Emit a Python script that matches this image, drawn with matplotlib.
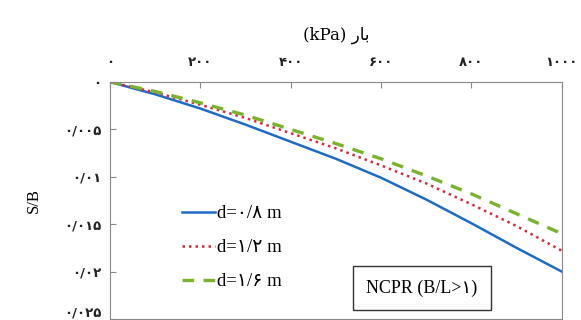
import numpy as np
import matplotlib.pyplot as plt

# load (kPa) and settlement ratio S/B
load = [0, 100, 200, 300, 400, 500, 600, 700, 800, 900, 1000]
sb_08 = [0, 0.0013, 0.0028, 0.0045, 0.0063, 0.0081, 0.0101, 0.0124, 0.0149, 0.0175, 0.0200]
sb_12 = [0, 0.0011, 0.0024, 0.0038, 0.0054, 0.0070, 0.0088, 0.0107, 0.0129, 0.0152, 0.0178]
sb_16 = [0, 0.0010, 0.0022, 0.0035, 0.0050, 0.0065, 0.0081, 0.0099, 0.0118, 0.0139, 0.0160]

labels = ['d=\u06f0/\u06f8 m', 'd=\u06f1/\u06f2 m', 'd=\u06f1/\u06f6 m']
x_ticks = [0, 200, 400, 600, 800, 1000]
x_ticklabels = ['\u06f0', '\u06f2\u06f0\u06f0', '\u06f4\u06f0\u06f0', '\u06f6\u06f0\u06f0', '\u06f8\u06f0\u06f0', '\u06f1\u06f0\u06f0\u06f0']
y_ticks = [0, 0.005, 0.01, 0.015, 0.02, 0.025]
y_ticklabels = ['\u06f0', '\u06f0/\u06f0\u06f0\u06f5', '\u06f0/\u06f0\u06f1', '\u06f0/\u06f0\u06f1\u06f5', '\u06f0/\u06f0\u06f2', '\u06f0/\u06f0\u06f2\u06f5']
# "بار" in presentation forms, visual order
x_title = '(kPa) \ufead\ufe8e\ufe91'

fam = ['Liberation Serif', 'DejaVu Sans']
plt.rcParams['font.family'] = fam

fig = plt.figure(figsize=(5.81, 3.2), dpi=100)
ax = fig.add_axes([0.189, 0.003, 0.778, 0.741])

ax.plot(load, sb_08, color='#1f6cc4', lw=1.8, label=labels[0])
ax.plot(load, sb_12, color='#d42a3c', lw=1.8, ls=(0, (1, 1.6)), label=labels[1])
ax.plot(load, sb_16, color='#78b52c', lw=2.4, ls=(0, (3.5, 2.8)), label=labels[2])

ax.set_xlim(0, 1000)
ax.set_ylim(0.025, 0)
ax.xaxis.tick_top()
ax.xaxis.set_label_position('top')
ax.set_xticks(x_ticks)
ax.set_xticklabels(x_ticklabels, fontsize=9.5, family='DejaVu Sans', weight='bold', color='#222222')
ax.set_yticks(y_ticks)
ax.set_yticklabels(y_ticklabels, fontsize=9.5, family='DejaVu Sans', weight='bold', color='#222222')
ax.get_yticklabels()[-1].set_va('bottom')
ax.tick_params(direction='in', length=4, color='#888888')
ax.tick_params(axis='y', pad=6)
ax.tick_params(axis='x', pad=9)
for s in ax.spines.values():
    s.set_color('#888888')

ax.set_xlabel(x_title, fontsize=12, labelpad=12, family=['DejaVu Serif', 'DejaVu Sans'])
ax.set_ylabel('S/B', fontsize=12, labelpad=16)

ax.legend(loc='upper left', bbox_to_anchor=(0.14, 0.52), frameon=False, fontsize=13.5,
          handlelength=1.75, handletextpad=0.1, labelspacing=0.9, borderpad=0)

ax.text(0.69, 0.13, 'NCPR (B/L>\u06f1)', transform=ax.transAxes, fontsize=13,
        ha='center', va='center',
        bbox=dict(boxstyle='square,pad=0.75', fc='white', ec='#333333', lw=1))

fig.savefig('out.png', dpi=100)
